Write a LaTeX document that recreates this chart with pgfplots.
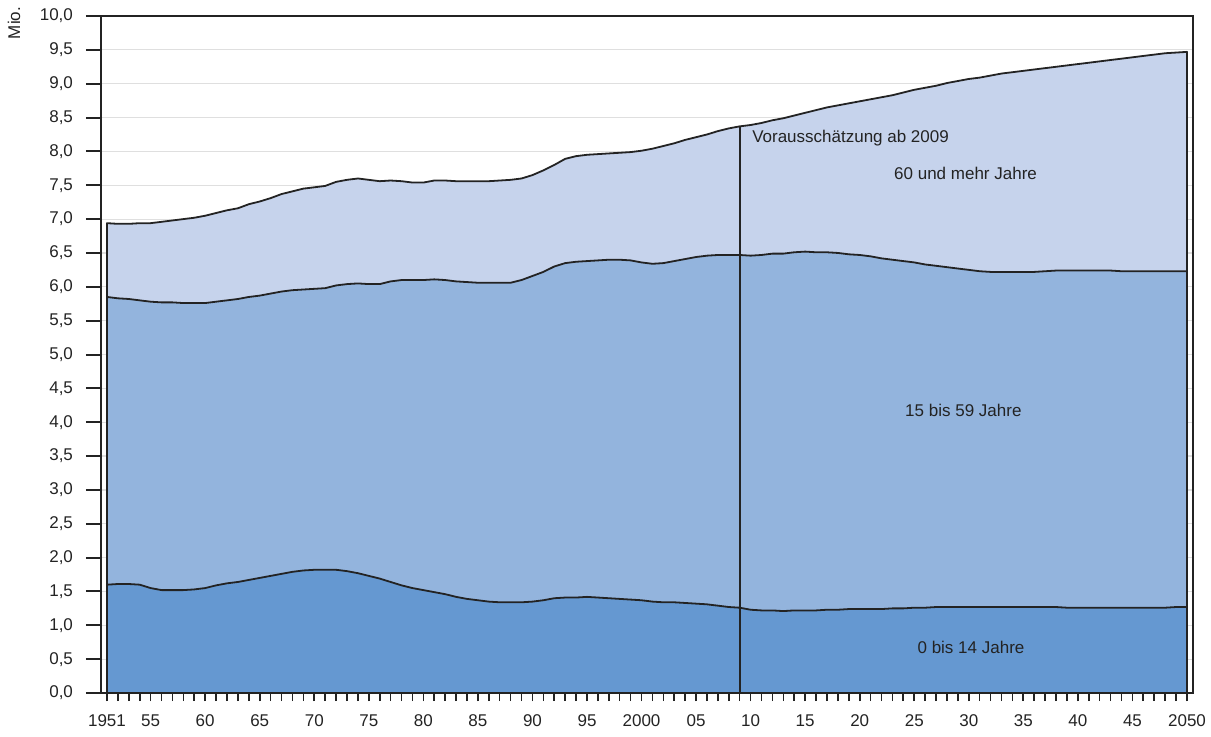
\documentclass[border=0pt]{standalone}
\usepackage{fontspec}
\setmainfont{Liberation Sans}
\usepackage{pgfplots}
\pgfplotsset{compat=1.18}
\usepackage{pgfplotstable}
\definecolor{cTop}{RGB}{198,211,236}
\definecolor{cMid}{RGB}{147,180,221}
\definecolor{cBot}{RGB}{101,152,209}
\definecolor{cLine}{RGB}{35,35,35}

% young = 0 bis 14 Jahre, mid = 0 bis 59 Jahre (cumulative), total = all ages (Mio.)
\pgfplotstableread{
year young mid total
1951 1.60 5.85 6.94
1952 1.61 5.83 6.93
1953 1.61 5.82 6.93
1954 1.60 5.80 6.94
1955 1.55 5.78 6.94
1956 1.52 5.77 6.96
1957 1.52 5.77 6.98
1958 1.52 5.76 7.00
1959 1.53 5.76 7.02
1960 1.55 5.76 7.05
1961 1.59 5.78 7.09
1962 1.62 5.80 7.13
1963 1.64 5.82 7.16
1964 1.67 5.85 7.22
1965 1.70 5.87 7.26
1966 1.73 5.90 7.31
1967 1.76 5.93 7.37
1968 1.79 5.95 7.41
1969 1.81 5.96 7.45
1970 1.82 5.97 7.47
1971 1.82 5.98 7.49
1972 1.82 6.02 7.55
1973 1.80 6.04 7.58
1974 1.77 6.05 7.60
1975 1.73 6.04 7.58
1976 1.69 6.04 7.56
1977 1.64 6.08 7.57
1978 1.59 6.10 7.56
1979 1.55 6.10 7.54
1980 1.52 6.10 7.54
1981 1.49 6.11 7.57
1982 1.46 6.10 7.57
1983 1.42 6.08 7.56
1984 1.39 6.07 7.56
1985 1.37 6.06 7.56
1986 1.35 6.06 7.56
1987 1.34 6.06 7.57
1988 1.34 6.06 7.58
1989 1.34 6.10 7.60
1990 1.35 6.16 7.65
1991 1.37 6.22 7.72
1992 1.40 6.30 7.80
1993 1.41 6.35 7.89
1994 1.41 6.37 7.93
1995 1.42 6.38 7.95
1996 1.41 6.39 7.96
1997 1.40 6.40 7.97
1998 1.39 6.40 7.98
1999 1.38 6.39 7.99
2000 1.37 6.36 8.01
2001 1.35 6.34 8.04
2002 1.34 6.35 8.08
2003 1.34 6.38 8.12
2004 1.33 6.41 8.17
2005 1.32 6.44 8.21
2006 1.31 6.46 8.25
2007 1.29 6.47 8.30
2008 1.27 6.47 8.34
2009 1.26 6.47 8.37
2010 1.23 6.46 8.39
2011 1.22 6.47 8.42
2012 1.22 6.49 8.46
2013 1.21 6.49 8.49
2014 1.22 6.51 8.53
2015 1.22 6.52 8.57
2016 1.22 6.51 8.61
2017 1.23 6.51 8.65
2018 1.23 6.50 8.68
2019 1.24 6.48 8.71
2020 1.24 6.47 8.74
2021 1.24 6.45 8.77
2022 1.24 6.42 8.80
2023 1.25 6.40 8.83
2024 1.25 6.38 8.87
2025 1.26 6.36 8.91
2026 1.26 6.33 8.94
2027 1.27 6.31 8.97
2028 1.27 6.29 9.01
2029 1.27 6.27 9.04
2030 1.27 6.25 9.07
2031 1.27 6.23 9.09
2032 1.27 6.22 9.12
2033 1.27 6.22 9.15
2034 1.27 6.22 9.17
2035 1.27 6.22 9.19
2036 1.27 6.22 9.21
2037 1.27 6.23 9.23
2038 1.27 6.24 9.25
2039 1.26 6.24 9.27
2040 1.26 6.24 9.29
2041 1.26 6.24 9.31
2042 1.26 6.24 9.33
2043 1.26 6.24 9.35
2044 1.26 6.23 9.37
2045 1.26 6.23 9.39
2046 1.26 6.23 9.41
2047 1.26 6.23 9.43
2048 1.26 6.23 9.45
2049 1.27 6.23 9.46
2050 1.27 6.23 9.47
}\data

\begin{document}
\begin{tikzpicture}
\begin{axis}[
  name=ax,
  scale only axis,
  width=546pt, height=338.5pt,
  xmin=1950.45, xmax=2050.55,
  ymin=0, ymax=10,
  axis line style={cLine, line width=1pt},
  ytick={0,0.5,...,10},
  xtick={1951,1955,1960,...,2050},
  xticklabels={1951,55,60,65,70,75,80,85,90,95,2000,05,10,15,20,25,30,35,40,45,2050},
  minor xtick={1951,...,2050},
  tick align=outside,
  xtick pos=bottom, ytick pos=left,
  major tick length=7.5pt,
  minor tick length=4pt,
  xtick style={/pgfplots/major tick length=4pt, cLine, line width=0.8pt},
  minor x tick style={cLine, line width=0.8pt},
  ytick style={cLine, line width=1pt},
  ymajorgrids,
  grid style={gray!25, line width=0.6pt},
  yticklabel style={xshift=-3pt, /pgf/number format/.cd, fixed, fixed zerofill, precision=1, use comma, assume math mode=true},
  tick label style={font=\fontsize{8.5}{10}\selectfont, text=cLine},
  every axis plot/.append style={line join=round},
]
\addplot[draw=cLine, line width=0.9pt, fill=cTop] table[x=year, y=total]{\data} \closedcycle;
\addplot[draw=cLine, line width=0.9pt, fill=cMid] table[x=year, y=mid]{\data} \closedcycle;
\addplot[draw=cLine, line width=0.9pt, fill=cBot] table[x=year, y=young]{\data} \closedcycle;
\addplot[cLine, line width=1pt] coordinates {(2009,0) (2009,8.37)};
\node[anchor=west, font=\fontsize{8.5}{10}\selectfont, text=cLine] at (axis cs:2009.5,8.2) {Vorausschätzung ab 2009};
\node[font=\fontsize{8.5}{10}\selectfont, text=cLine] at (axis cs:2029.7,7.67) {60 und mehr Jahre};
\node[font=\fontsize{8.5}{10}\selectfont, text=cLine] at (axis cs:2029.5,4.17) {15 bis 59 Jahre};
\node[font=\fontsize{8.5}{10}\selectfont, text=cLine] at (axis cs:2030.2,0.68) {0 bis 14 Jahre};
\end{axis}
\node[rotate=90, font=\fontsize{8.5}{10}\selectfont, text=cLine] at ([shift={(-43.5pt,335pt)}]ax.south west) {Mio.};
\pgfresetboundingbox
\path[use as bounding box] ([shift={(-50.5pt,-21.5pt)}]ax.south west) rectangle ([shift={(555pt,346.5pt)}]ax.south west);
\end{tikzpicture}
\end{document}
